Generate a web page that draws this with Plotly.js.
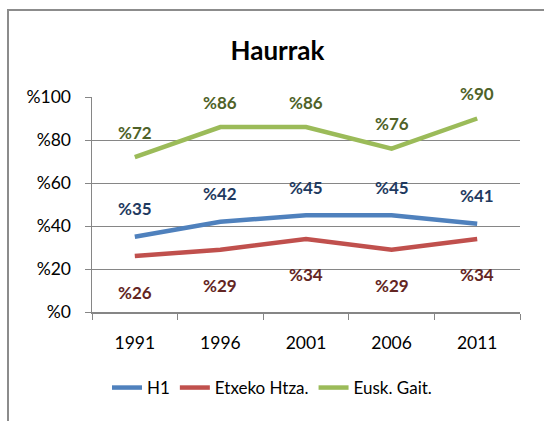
<!DOCTYPE html>
<html><head><meta charset="utf-8">
<script src="https://cdn.plot.ly/plotly-3.0.1.min.js"></script>
<style>
html,body{margin:0;padding:0;overflow:hidden;background:#fff;}
#frame{position:absolute;left:7px;top:9px;width:560px;height:440px;border:2px solid #8c8c8c;box-sizing:border-box;}
#chart{position:absolute;left:0;top:0;width:544px;height:421px;}
</style></head>
<body>
<div id="frame"></div>
<div id="chart"></div>
<script>
var years = ['1991','1996','2001','2006','2011'];
var h1 = [35, 42, 45, 45, 41];
var etxeko = [26, 29, 34, 29, 34];
var eusk = [72, 86, 86, 76, 90];
var names = ['H1', 'Etxeko Htza.', 'Eusk. Gait.'];
var yTicks = [0, 20, 40, 60, 80, 100];
var yTickText = ['%0', '%20', '%40', '%60', '%80', '%100'];

var series = [h1, etxeko, eusk];
var lineColors = ['#4F81BD', '#C0504D', '#9BBB59'];
var labelColors = ['#1F3A60', '#632523', '#4F6228'];
var shifts = [28, -36, 25];
var FONT = 'Lato, "Open Sans", sans-serif';

var traces = series.map(function(s, i){
  return {x: years, y: s, type: 'scatter', mode: 'lines', name: names[i],
    line: {color: lineColors[i], width: 4.5}};
});

var annotations = [];
series.forEach(function(s, i){
  s.forEach(function(v, j){
    annotations.push({x: j, y: v, xref: 'x', yref: 'y', text: '<b>%' + v + '</b>',
      showarrow: false, yshift: shifts[i],
      font: {family: FONT, size: 17, color: labelColors[i]}});
  });
});

var layout = {
  width: 544, height: 421,
  margin: {l: 92, r: 24, t: 97, b: 109},
  paper_bgcolor: 'rgba(0,0,0,0)', plot_bgcolor: 'rgba(0,0,0,0)',
  font: {family: FONT, size: 17.5, color: '#000'},
  title: {text: '<b>Haurrak</b>', x: 0.51, xref: 'container', y: 0.88, yanchor: 'middle',
    font: {family: FONT, size: 26, color: '#000'}},
  xaxis: {type: 'category', range: [-0.5, 4.5], showgrid: false, showline: true,
    linecolor: '#868686', linewidth: 1.5, ticks: 'outside', tickson: 'boundaries',
    ticklen: 6, tickcolor: '#868686', tickfont: {size: 17.5}, ticklabelstandoff: 14,
    fixedrange: true},
  yaxis: {range: [0, 100], tickvals: yTicks, ticktext: yTickText, showgrid: true,
    gridcolor: '#868686', gridwidth: 1, showline: true, linecolor: '#868686', linewidth: 1.5,
    ticks: 'outside', ticklen: 6, tickcolor: '#868686', zeroline: false,
    tickfont: {size: 17.5}, ticklabelstandoff: 10, fixedrange: true},
  showlegend: true,
  legend: {orientation: 'h', x: 0.5, xref: 'container', xanchor: 'center', y: 1 - 388/421,
    yref: 'container', yanchor: 'middle', font: {size: 17}},
  annotations: annotations
};

Plotly.newPlot('chart', traces, layout, {displayModeBar: false, staticPlot: true});
</script>
</body></html>
